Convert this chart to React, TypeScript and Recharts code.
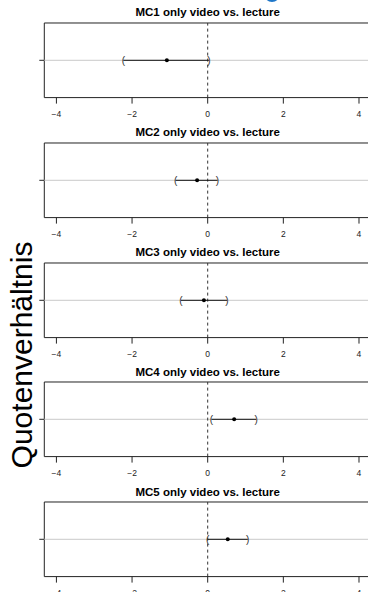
import { ScatterChart, Scatter, XAxis, YAxis, ReferenceLine, ReferenceArea } from 'recharts';

// odds-ratio panels
const titles = [
  'MC1 only video vs. lecture',
  'MC2 only video vs. lecture',
  'MC3 only video vs. lecture',
  'MC4 only video vs. lecture',
  'MC5 only video vs. lecture',
];
const estimate = [-1.08, -0.28, -0.1, 0.7, 0.53];
const lower = [-2.23, -0.85, -0.71, 0.1, 0.0];
const upper = [0.03, 0.26, 0.51, 1.28, 1.06];
const xTicks = [-4, -2, 0, 2, 4];
const yLabel = 'Quotenverhältnis';

const FONT = '"Liberation Sans", Arial, Helvetica, sans-serif';
const X_DOM: [number, number] = [-4.32, 4.32];

const fmt = (v: number) => (v < 0 ? '\u2212' + Math.abs(v) : String(v));

const Paren = (p: any) => (
  <text x={p.cx} y={p.cy} textAnchor="middle" dominantBaseline="central" fontSize={10} fill="#333" fontFamily={FONT}>
    {p.payload.br}
  </text>
);

const Dot = (p: any) => <circle cx={p.cx} cy={p.cy} r={2} fill="#000" />;

function Panel({ i }: { i: number }) {
  const boxTop = 22.7 + i * 119.9;
  const ci = [
    { x: lower[i], y: 1, br: '(' },
    { x: upper[i], y: 1, br: ')' },
  ];
  const pt = [{ x: estimate[i], y: 1 }];
  return (
    <>
      <div
        style={{
          position: 'absolute', left: 44.3, width: 326.8, top: boxTop - 10.7 - 6, height: 12, lineHeight: '12px',
          textAlign: 'center', fontFamily: FONT, fontWeight: 'bold', fontSize: 11.5, color: '#000', whiteSpace: 'nowrap',
        }}
      >
        {titles[i]}
      </div>
      <div style={{ position: 'absolute', left: 0, top: boxTop - 2 }}>
        <ScatterChart width={380} height={106.6} margin={{ top: 2, right: 8.9, bottom: 0, left: 4.3 }}>
          <XAxis
            type="number" dataKey="x" domain={X_DOM} allowDataOverflow ticks={xTicks} tickFormatter={fmt}
            axisLine={false} tickSize={6} tickMargin={7} height={30}
            tickLine={{ stroke: '#222' }} tick={{ fontSize: 8.5, fill: '#222', fontFamily: FONT }}
          />
          <YAxis
            type="number" dataKey="y" domain={[0, 2]} ticks={[1]} tickFormatter={() => ''} width={40}
            axisLine={false} tickSize={5} tickLine={{ stroke: '#222' }}
          />
          <ReferenceArea x1={X_DOM[0]} x2={X_DOM[1]} y1={0} y2={2} fill="none" stroke="#222" strokeWidth={1} />
          <ReferenceLine y={1} stroke="#d4d4d4" strokeWidth={1.2} />
          <ReferenceLine x={0} stroke="#333" strokeDasharray="3 3" />
          <Scatter data={ci} line={{ stroke: '#111', strokeWidth: 1 }} shape={Paren} isAnimationActive={false} />
          <Scatter data={pt} shape={Dot} isAnimationActive={false} />
        </ScatterChart>
      </div>
    </>
  );
}

export default function App() {
  return (
    <div style={{ position: 'absolute', left: 0, top: 0, width: 368, height: 592, overflow: 'hidden', background: '#fff' }}>
      <div style={{ position: 'absolute', left: 264, top: -14, width: 16, height: 16, borderRadius: 8, background: '#1f77c9' }} />
      {titles.map((_, i) => (
        <Panel key={i} i={i} />
      ))}
      <svg width={368} height={592} style={{ position: 'absolute', left: 0, top: 0, pointerEvents: 'none' }}>
        <text transform="rotate(-90)" x={-355} y={32} textAnchor="middle" fontSize={30} fill="#000" fontFamily={FONT}>
          {yLabel}
        </text>
      </svg>
    </div>
  );
}
